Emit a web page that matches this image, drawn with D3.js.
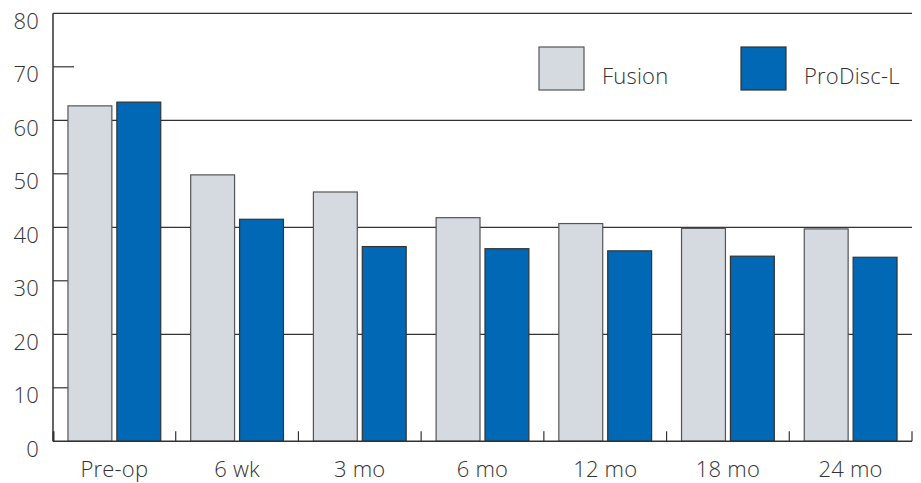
<!DOCTYPE html>
<html><head><meta charset="utf-8">
<script src="https://cdn.jsdelivr.net/npm/d3@7"></script>
<style>body{margin:0;background:#fff}svg{display:block}text{font-family:"Open Sans","Noto Sans",sans-serif;fill:#333;font-weight:300;letter-spacing:0.2px}</style>
</head><body><svg id="c" width="921" height="483"></svg>
<script>
const categories = ["Pre-op","6 wk","3 mo","6 mo","12 mo","18 mo","24 mo"];
const seriesNames = ["Fusion","ProDisc-L"];
const fusion = [62.7,49.8,46.6,41.8,40.7,39.8,39.7];
const prodisc = [63.4,41.5,36.4,36.0,35.6,34.6,34.4];
const yTicks = [0,10,20,30,40,50,60,70,80];
const gridTicks = [20,40,60,80];
const shortTicks = [10,30,50,70];

const colors = {"Fusion":"#d5d9e0","ProDisc-L":"#0068b4"};
const svg = d3.select("#c");
const L = 53, R = 912, T = 13.3, B = 441.3;
const x = d3.scaleBand().domain(categories).range([L,R]).paddingInner(0).paddingOuter(0);
const y = d3.scaleLinear().domain([0,80]).range([B,T]);
const bw = x.bandwidth();
const barW = bw*44/123, gap = bw*5/123, pad = (bw-2*barW-gap)/2;

svg.selectAll("line.grid").data(gridTicks).join("line")
  .attr("x1",L).attr("x2",R).attr("y1",d=>y(d)).attr("y2",d=>y(d))
  .attr("stroke","#333").attr("stroke-width",1.2);
svg.selectAll("line.short").data(shortTicks).join("line")
  .attr("x1",L).attr("x2",L+21).attr("y1",d=>y(d)).attr("y2",d=>y(d))
  .attr("stroke","#333").attr("stroke-width",1.2);

const data = categories.map((c,i)=>({c, vals:[fusion[i],prodisc[i]]}));
const g = svg.selectAll("g.cat").data(data).join("g").attr("transform",d=>`translate(${x(d.c)},0)`);
g.selectAll("rect").data(d=>d.vals.map((v,j)=>({v,j}))).join("rect")
  .attr("x",d=>pad + d.j*(barW+gap)).attr("width",barW)
  .attr("y",d=>y(d.v)).attr("height",d=>y(0)-y(d.v))
  .attr("fill",d=>colors[seriesNames[d.j]])
  .attr("stroke",d=>d.j===0?"#555":"#333").attr("stroke-width",1.2);

svg.append("line").attr("x1",L).attr("x2",L).attr("y1",T).attr("y2",B).attr("stroke","#333").attr("stroke-width",1.5);
svg.append("line").attr("x1",L).attr("x2",R).attr("y1",B).attr("y2",B).attr("stroke","#333").attr("stroke-width",1.5);
const bounds = categories.map(c=>x(c)).slice(1).concat([R]);
svg.selectAll("line.bt").data(bounds).join("line")
  .attr("x1",d=>d).attr("x2",d=>d).attr("y1",B-10).attr("y2",B)
  .attr("stroke","#333").attr("stroke-width",1.2);
svg.append("line").attr("x1",L+0.5).attr("x2",L+0.5).attr("y1",B-10).attr("y2",B).attr("stroke","#333").attr("stroke-width",2);

svg.selectAll("text.yl").data(yTicks).join("text")
  .attr("x",39).attr("y",d=>y(d)+15.3).attr("text-anchor","end")
  .attr("font-size",22).text(d=>d);
svg.selectAll("text.xl").data(categories).join("text")
  .attr("x",d=>x(d)+bw/2).attr("y",477).attr("text-anchor","middle")
  .attr("font-size",22).text(d=>d);

const legX = [539,741];
seriesNames.forEach((s,i)=>{
  svg.append("rect").attr("x",legX[i]).attr("y",47).attr("width",45).attr("height",43)
    .attr("fill",colors[s]).attr("stroke",i===0?"#555":"#333").attr("stroke-width",1.2);
  svg.append("text").attr("x",legX[i]+63).attr("y",84).attr("font-size",22).text(s);
});
</script></body></html>
